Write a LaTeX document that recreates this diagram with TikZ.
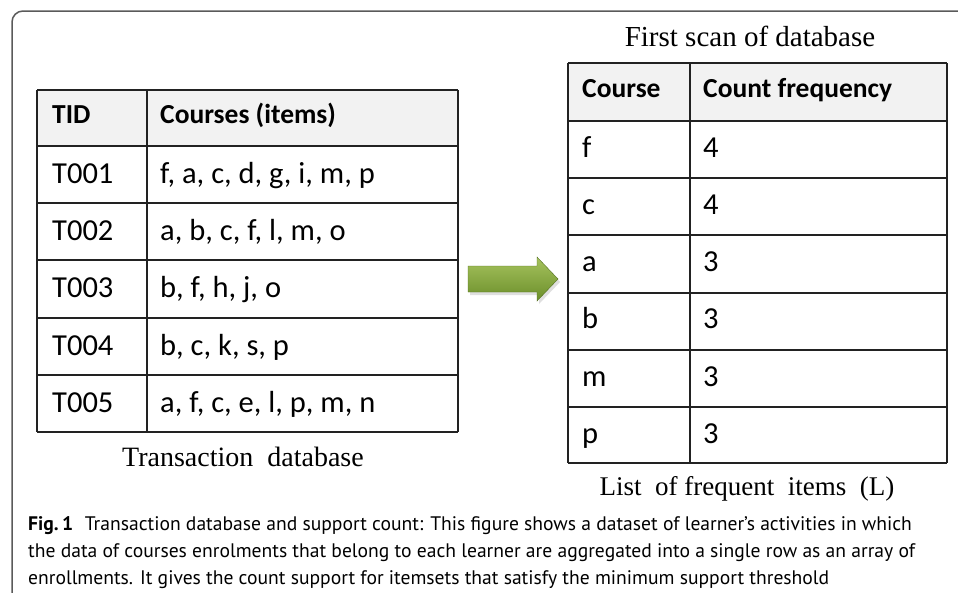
\documentclass[tikz,border=0pt]{standalone}
\usepackage{fontspec}
\setmainfont{Liberation Serif}
\newfontfamily\tabfont{Carlito}
\newfontfamily\capfont{PT Sans}
\definecolor{framegray}{HTML}{5A5A5A}
\definecolor{headfill}{HTML}{F2F2F2}
\definecolor{gridline}{HTML}{222222}
\definecolor{arrowlight}{HTML}{A6C35E}
\definecolor{arrowdark}{HTML}{6B8E2A}
\tikzset{
  grid/.style={draw=gridline, line width=1.8pt},
  bodytxt/.style={anchor=base west, inner sep=0pt, font=\tabfont\fontsize{30.5}{30.5}\selectfont},
  headtxt/.style={anchor=base west, inner sep=0pt, font=\tabfont\bfseries\fontsize{27.5}{27.5}\selectfont},
  label/.style={anchor=base, inner sep=0pt, font=\fontsize{27}{27}\selectfont},
  captxt/.style={anchor=base west, inner sep=0pt, font=\capfont\fontsize{19.6}{19.6}\selectfont},
}
\begin{document}
\begin{tikzpicture}[x=1pt,y=-1pt]
\useasboundingbox (0,0) rectangle (958,592);
% frame
\draw[framegray, line width=1.5pt, rounded corners=11pt] (12,600) -- (12,11) -- (970,11);

% ---------- left table ----------
\fill[headfill] (37,90) rectangle (458,146);
\foreach \y in {90,146,203,260,318,375,432} \draw[grid] (37,\y) -- (458,\y);
\foreach \x in {37,147,458} \draw[grid] (\x,90) -- (\x,432);
\node[headtxt] (lh1) at (52,123) {TID};
\node[headtxt] (lh2) at (160,123) {Courses (items)};
\node[bodytxt] (l1a) at (52,183) {T001};
\node[bodytxt] (l1b) at (160,183) {f, a, c, d, g, i, m, p};
\node[bodytxt] (l2a) at (52,240) {T002};
\node[bodytxt] (l2b) at (160,240) {a, b, c, f, l, m, o};
\node[bodytxt] (l3a) at (52,297) {T003};
\node[bodytxt] (l3b) at (160,297) {b, f, h, j, o};
\node[bodytxt] (l4a) at (52,355) {T004};
\node[bodytxt] (l4b) at (160,355) {b, c, k, s, p};
\node[bodytxt] (l5a) at (52,412) {T005};
\node[bodytxt] (l5b) at (160,412) {a, f, c, e, l, p, m, n};
\node[label, font=\fontsize{28}{28}\selectfont] (ltitle) at (243,466) {Transaction\ \ database};

% ---------- arrow ----------
\fill[black!25, opacity=0.5] (470,269) -- (539,269) -- (539,260) -- (560,282) -- (539,304) -- (539,295) -- (470,295) -- cycle;
\shade[top color=arrowlight, bottom color=arrowdark, draw=arrowdark!80!black, line width=0.4pt]
  (468,266) -- (537,266) -- (537,257) -- (558,279) -- (537,301) -- (537,292) -- (468,292) -- cycle;

% ---------- right table ----------
\node[label, font=\fontsize{29}{29}\selectfont] (rtitle) at (750,46) {First scan of database};
\fill[headfill] (568,63) rectangle (947,121);
\foreach \y in {63,121,178,235,293,350,407,463} \draw[grid] (568,\y) -- (947,\y);
\foreach \x in {568,690,947} \draw[grid] (\x,63) -- (\x,463);
\node[headtxt] (rh1) at (582,97) {Course};
\node[headtxt] (rh2) at (703,97) {Count frequency};
\node[bodytxt] (r1a) at (582,157) {f};
\node[bodytxt] (r1b) at (703,157) {4};
\node[bodytxt] (r2a) at (582,214) {c};
\node[bodytxt] (r2b) at (703,214) {4};
\node[bodytxt] (r3a) at (582,271) {a};
\node[bodytxt] (r3b) at (703,271) {3};
\node[bodytxt] (r4a) at (582,328) {b};
\node[bodytxt] (r4b) at (703,328) {3};
\node[bodytxt] (r5a) at (582,386) {m};
\node[bodytxt] (r5b) at (703,386) {3};
\node[bodytxt] (r6a) at (582,443) {p};
\node[bodytxt] (r6b) at (703,443) {3};
\node[label] (rcap) at (747,495) {List\ \ of frequent\ \ items\ \ (L)};

% ---------- caption ----------
\node[captxt] (c0) at (28,530) {\textbf{Fig.\,1}\hspace{0.6em}Transaction database and support count: This figure shows a dataset of learner’s activities in which};
\node[captxt] (c1) at (28,557) {the data of courses enrolments that belong to each learner are aggregated into a single row as an array of};
\node[captxt] (c2) at (28,584) {enrollments. It gives the count support for itemsets that satisfy the minimum support threshold};
\end{tikzpicture}
\end{document}
